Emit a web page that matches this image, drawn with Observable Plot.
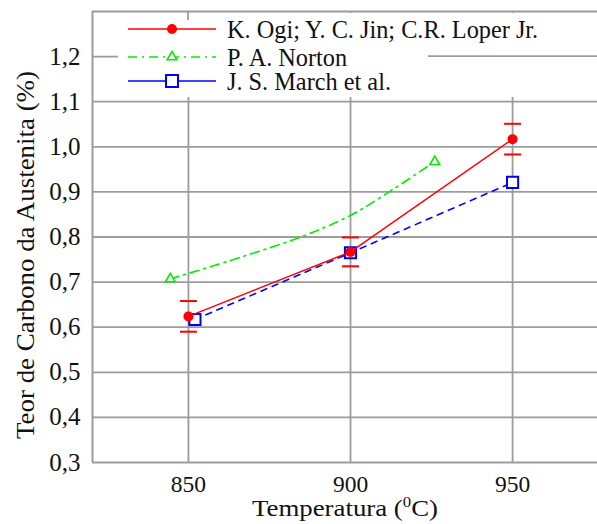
<!DOCTYPE html>
<html><head><meta charset="utf-8">
<script src="https://cdn.jsdelivr.net/npm/d3@7"></script>
<script src="https://cdn.jsdelivr.net/npm/@observablehq/plot@0.6"></script>
<style>
body{margin:0;background:#fff;}
#wrap{position:relative;width:597px;height:524px;font-family:"Liberation Serif","Times New Roman",serif;}
#wrap svg{position:absolute;left:0;top:0;font-family:"Liberation Serif","Times New Roman",serif !important;}
#wrap svg text, #wrap svg g{font-family:"Liberation Serif","Times New Roman",serif !important;font-variant:normal !important;}
</style></head><body><div id="wrap"></div>
<script>
// ---- data ----
const ogiTemps = [850, 900, 950];
const ogiValues = [0.624, 0.767, 1.017];
const ogiErrors = [0.034, 0.032, 0.034];
const nortonTemps = [844.4, 866, 885, 900, 913.6, 926];
const nortonValues = [0.707, 0.755, 0.801, 0.848, 0.908, 0.967];
const nortonMarkerIdx = [0, 5];
const marchTemps = [852, 900, 950];
const marchValues = [0.617, 0.765, 0.921];
const xTicks = [850, 900, 950];
const yTicks = [0.3, 0.4, 0.5, 0.6, 0.7, 0.8, 0.9, 1.0, 1.1, 1.2];
const seriesNames = ["K. Ogi; Y. C. Jin; C.R. Loper Jr.", "P. A. Norton", "J. S. March et al."];
const colors = ["#ff0000", "#00ee00", "#0000ff"];
const xTitle = "Temperatura (0C)";
const yTitle = "Teor de Carbono da Austenita (%)";

const ogi = ogiTemps.map((t, i) => ({t, v: ogiValues[i], e: ogiErrors[i]}));
const norton = nortonTemps.map((t, i) => ({t, v: nortonValues[i]}));
const march = marchTemps.map((t, i) => ({t, v: marchValues[i]}));

const hbar = {draw(ctx, size) { const r = Math.sqrt(size / Math.PI); ctx.moveTo(-r, 0); ctx.lineTo(r, 0); }};
const grid = "#9c9c9c";

const plot = Plot.plot({
  width: 597, height: 524,
  marginLeft: 92, marginRight: 0, marginTop: 11, marginBottom: 62,
  style: {fontFamily: "Liberation Serif", fontSize: "24px", color: "#111", background: "#fff"},
  x: {domain: [820.4, 976.2], ticks: xTicks},
  y: {domain: [0.3, 1.3], ticks: yTicks},
  marks: [
    Plot.ruleY(yTicks.concat([1.3]), {stroke: grid, strokeWidth: 1.8}),
    Plot.ruleX(xTicks, {stroke: grid, strokeWidth: 1.8}),
    Plot.ruleX([820.4], {stroke: grid, strokeWidth: 2}),
    Plot.axisX({ticks: xTicks, tickSize: 0, tickPadding: 13, label: null, fontSize: 23.5, fontFamily: "Liberation Serif", fontVariant: "normal"}),
    Plot.axisY({ticks: yTicks, tickSize: 0, tickPadding: 12, label: null, fontSize: 25, fontFamily: "Liberation Serif", fontVariant: "normal",
      tickFormat: d => d.toFixed(1).replace(".", ",")}),
    Plot.text([xTitle], {frameAnchor: "bottom", dy: 46, lineAnchor: "middle", textAnchor: "middle", fontSize: 24, fill: "#111"}),
    Plot.text([yTitle], {frameAnchor: "left", rotate: -90, dx: -67, dy: 18, lineAnchor: "middle", textAnchor: "middle", fontSize: 25.5, fill: "#111"}),
    // Norton
    Plot.line(norton, {x: "t", y: "v", stroke: colors[1], strokeWidth: 1.6, curve: "catmull-rom", strokeDasharray: "9,5,2,5"}),
    Plot.dot(nortonMarkerIdx.map(i => norton[i]), {x: "t", y: "v", symbol: "triangle", r: 3.6, stroke: colors[1], fill: "#fff", strokeWidth: 1.6}),
    // March
    Plot.line(march, {x: "t", y: "v", stroke: colors[2], strokeWidth: 1.6, strokeDasharray: "6,6"}),
    Plot.dot(march, {x: "t", y: "v", symbol: "square", r: 6.3, stroke: colors[2], fill: "#fff", strokeWidth: 2}),
    // Ogi
    Plot.line(ogi, {x: "t", y: "v", stroke: colors[0], strokeWidth: 1.5}),
    Plot.dot(ogi, {x: "t", y: "v", r: 5, fill: colors[0], stroke: "none"}),
    Plot.dot(ogi, {x: "t", y: d => d.v + d.e, symbol: hbar, r: 8.5, stroke: colors[0], fill: "none", strokeWidth: 2}),
    Plot.dot(ogi, {x: "t", y: d => d.v - d.e, symbol: hbar, r: 8.5, stroke: colors[0], fill: "none", strokeWidth: 2})
  ]
});

const wrap = document.getElementById("wrap");
wrap.appendChild(plot);

plot.querySelectorAll("text").forEach(t => {
  if (t.textContent === xTitle) {
    t.textContent = "";
    const a = document.createElementNS("http://www.w3.org/2000/svg", "tspan"); a.textContent = "Temperatura (";
    const b = document.createElementNS("http://www.w3.org/2000/svg", "tspan"); b.textContent = "0"; b.setAttribute("font-size", "15"); b.setAttribute("dy", "-9");
    const c = document.createElementNS("http://www.w3.org/2000/svg", "tspan"); c.textContent = "C)"; c.setAttribute("dy", "9");
    t.append(a, b, c);
    t.setAttribute("textLength", 186);
    t.setAttribute("lengthAdjust", "spacingAndGlyphs");
  } else if (t.textContent === yTitle) {
    t.setAttribute("textLength", 368);
    t.setAttribute("lengthAdjust", "spacingAndGlyphs");
  }
});

// legend overlay
const xs = plot.scale("x"), ys = plot.scale("y");
const lg = d3.select(wrap).append("svg").attr("width", 597).attr("height", 524).style("pointer-events", "none");
lg.append("rect").attr("x", 118).attr("y", 13).attr("width", 479).attr("height", 84).attr("fill", "#fff");
lg.append("line").attr("x1", 428).attr("x2", 597).attr("y1", ys.apply(1.2)).attr("y2", ys.apply(1.2)).attr("stroke", grid).attr("stroke-width", 1.8);
lg.append("line").attr("x1", xs.apply(850)).attr("x2", xs.apply(850)).attr("y1", ys.apply(1.3)).attr("y2", 20).attr("stroke", grid).attr("stroke-width", 1.8);
const rowsY = [29, 57, 81];
const dashes = [null, "9,5,2,5", null];
rowsY.forEach((y, i) => {
  const g = lg.append("g");
  g.append("line").attr("x1", 128).attr("x2", 216).attr("y1", y).attr("y2", y).attr("stroke", colors[i]).attr("stroke-width", 1.6).attr("stroke-dasharray", dashes[i]);
  if (i === 0) g.append("circle").attr("cx", 172).attr("cy", y).attr("r", 5).attr("fill", colors[0]);
  if (i === 1) g.append("path").attr("d", d3.symbol(d3.symbolTriangle, 3.6 * 3.6 * Math.PI)()).attr("transform", `translate(172,${y})`).attr("fill", "#fff").attr("stroke", colors[1]).attr("stroke-width", 1.6);
  if (i === 2) g.append("rect").attr("x", 166).attr("y", y - 6).attr("width", 12).attr("height", 12).attr("fill", "#fff").attr("stroke", colors[2]).attr("stroke-width", 2);
  g.append("text").attr("x", 227).attr("y", y).attr("dy", "0.35em").attr("font-size", 24.3).attr("fill", "#111").text(seriesNames[i]);
});
</script></body></html>
